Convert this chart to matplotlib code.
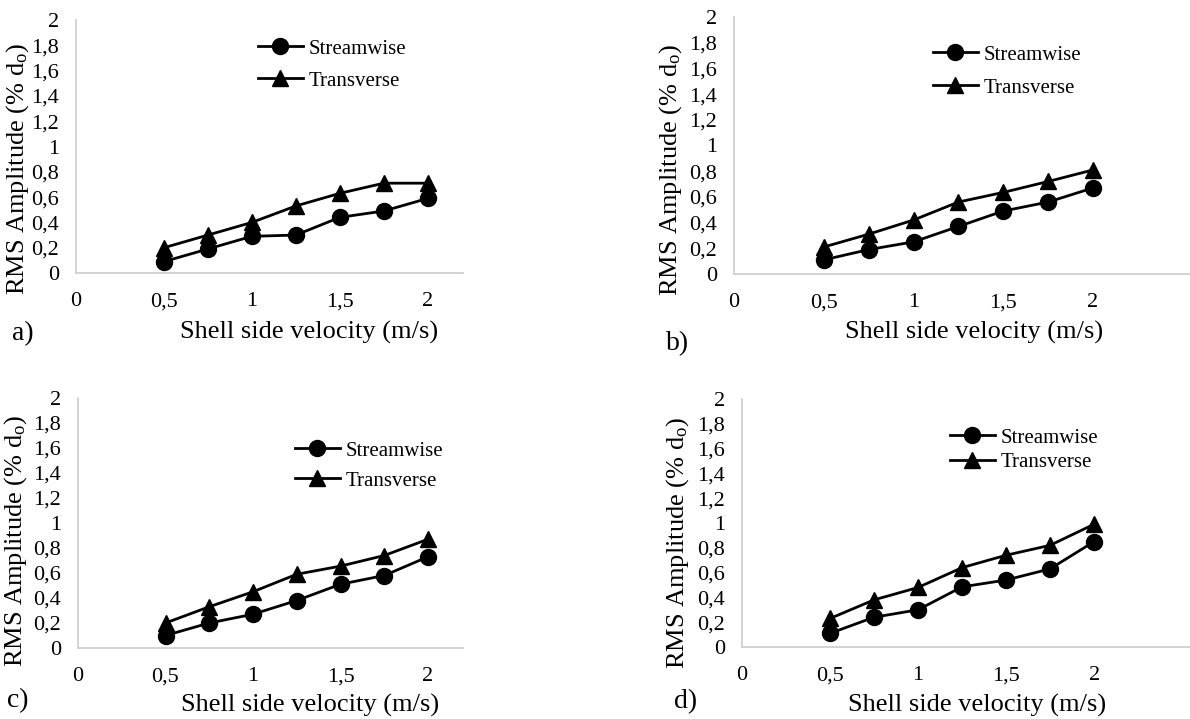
import matplotlib
matplotlib.use('Agg')
import matplotlib.pyplot as plt

plt.rcParams['font.family'] = ['Liberation Serif', 'DejaVu Serif']
plt.rcParams['mathtext.fontset'] = 'custom'
plt.rcParams['mathtext.rm'] = 'Liberation Serif'
plt.rcParams['mathtext.it'] = 'Liberation Serif:italic'

# ---- data ----
velocity = [0.5, 0.75, 1.0, 1.25, 1.5, 1.75, 2.0]
a_stream = [0.09, 0.19, 0.29, 0.30, 0.44, 0.49, 0.59]
a_trans = [0.20, 0.30, 0.40, 0.53, 0.63, 0.71, 0.71]
b_stream = [0.11, 0.19, 0.25, 0.37, 0.49, 0.56, 0.67]
b_trans = [0.21, 0.31, 0.42, 0.56, 0.635, 0.72, 0.81]
c_stream = [0.10, 0.20, 0.27, 0.38, 0.51, 0.58, 0.73]
c_trans = [0.20, 0.33, 0.45, 0.59, 0.655, 0.74, 0.87]
d_stream = [0.11, 0.24, 0.30, 0.485, 0.54, 0.63, 0.85]
d_trans = [0.23, 0.38, 0.48, 0.64, 0.74, 0.82, 0.99]

x_ticks = [0, 0.5, 1, 1.5, 2]
x_ticklabels = ['0', '0,5', '1', '1,5', '2']
y_ticks = [0, 0.2, 0.4, 0.6, 0.8, 1.0, 1.2, 1.4, 1.6, 1.8, 2.0]
y_ticklabels = ['0', '0,2', '0,4', '0,6', '0,8', '1', '1,2', '1,4', '1,6', '1,8', '2']
series_names = ['Streamwise', 'Transverse']
panel_tags = ['a)', 'b)', 'c)', 'd)']
xlabel_text = 'Shell side velocity (m/s)'
ylabel_text = r'RMS Amplitude (% d$_{\mathrm{o}}$)'

W, H = 1190, 719
fig = plt.figure(figsize=(W / 100, H / 100), dpi=100)


def fx(px):
    return px / W


def fy(py):
    return 1 - py / H


# layout (pixels): left, right, top, bottom, xmax, legend(x, ytop, spacing),
# ylabel(x, y), xlabel(x, baseline), tag(x, baseline)
panels = [
    dict(box=(76, 463, 20, 273), xmax=2.2, data=(a_stream, a_trans),
         leg=(258, 39, 0.6), ylab=(18, 169), xlab=(309, 339), tag=(12, 340)),
    dict(box=(734, 1190, 17, 274), xmax=2.54, data=(b_stream, b_trans),
         leg=(933, 45, 0.65), ylab=(671, 170), xlab=(974, 339), tag=(666, 350)),
    dict(box=(78, 463, 398, 648), xmax=2.2, data=(c_stream, c_trans),
         leg=(295, 441, 0.5), ylab=(16, 541), xlab=(310, 712), tag=(7, 707)),
    dict(box=(742, 1190, 399, 647), xmax=2.545, data=(d_stream, d_trans),
         leg=(950, 428, 0.25), ylab=(678, 543), xlab=(977, 712), tag=(674, 708)),
]

for p, tag in zip(panels, panel_tags):
    l, r, t, b = p['box']
    ax = fig.add_axes([fx(l), fy(b), (r - l) / W, (b - t) / H])
    stream, trans = p['data']
    ax.plot(velocity, stream, color='black', lw=2.0, marker='o', ms=11.5,
            label=series_names[0], clip_on=False)
    ax.plot(velocity, trans, color='black', lw=2.0, marker='^', ms=11.5,
            label=series_names[1], clip_on=False)
    ax.set_xlim(0, p['xmax'])
    ax.set_ylim(0, 2)
    ax.set_xticks(x_ticks)
    ax.set_xticklabels(x_ticklabels)
    ax.set_yticks(y_ticks)
    ax.set_yticklabels(y_ticklabels)
    ax.tick_params(axis='y', length=0, labelsize=16, pad=12)
    ax.tick_params(axis='x', length=0, labelsize=16, pad=14)
    for s in ['top', 'right']:
        ax.spines[s].set_visible(False)
    for s in ['left', 'bottom']:
        ax.spines[s].set_color('#d0d0d0')
        ax.spines[s].set_linewidth(1.3)

    lx, ly, sp = p['leg']
    ax.legend(loc='upper left', bbox_to_anchor=(fx(lx), fy(ly)),
              bbox_transform=fig.transFigure, frameon=False, fontsize=15,
              handlelength=2.15, handletextpad=0.3, labelspacing=sp,
              borderpad=0, borderaxespad=0, markerscale=1.0)

    fig.text(fx(p['ylab'][0]), fy(p['ylab'][1]), ylabel_text, rotation=90,
             ha='center', va='center', fontsize=19)
    fig.text(fx(p['xlab'][0]), fy(p['xlab'][1]), xlabel_text,
             ha='center', va='baseline', fontsize=19)
    fig.text(fx(p['tag'][0]), fy(p['tag'][1]), tag,
             ha='left', va='baseline', fontsize=20)

fig.savefig('out.png', dpi=100)
